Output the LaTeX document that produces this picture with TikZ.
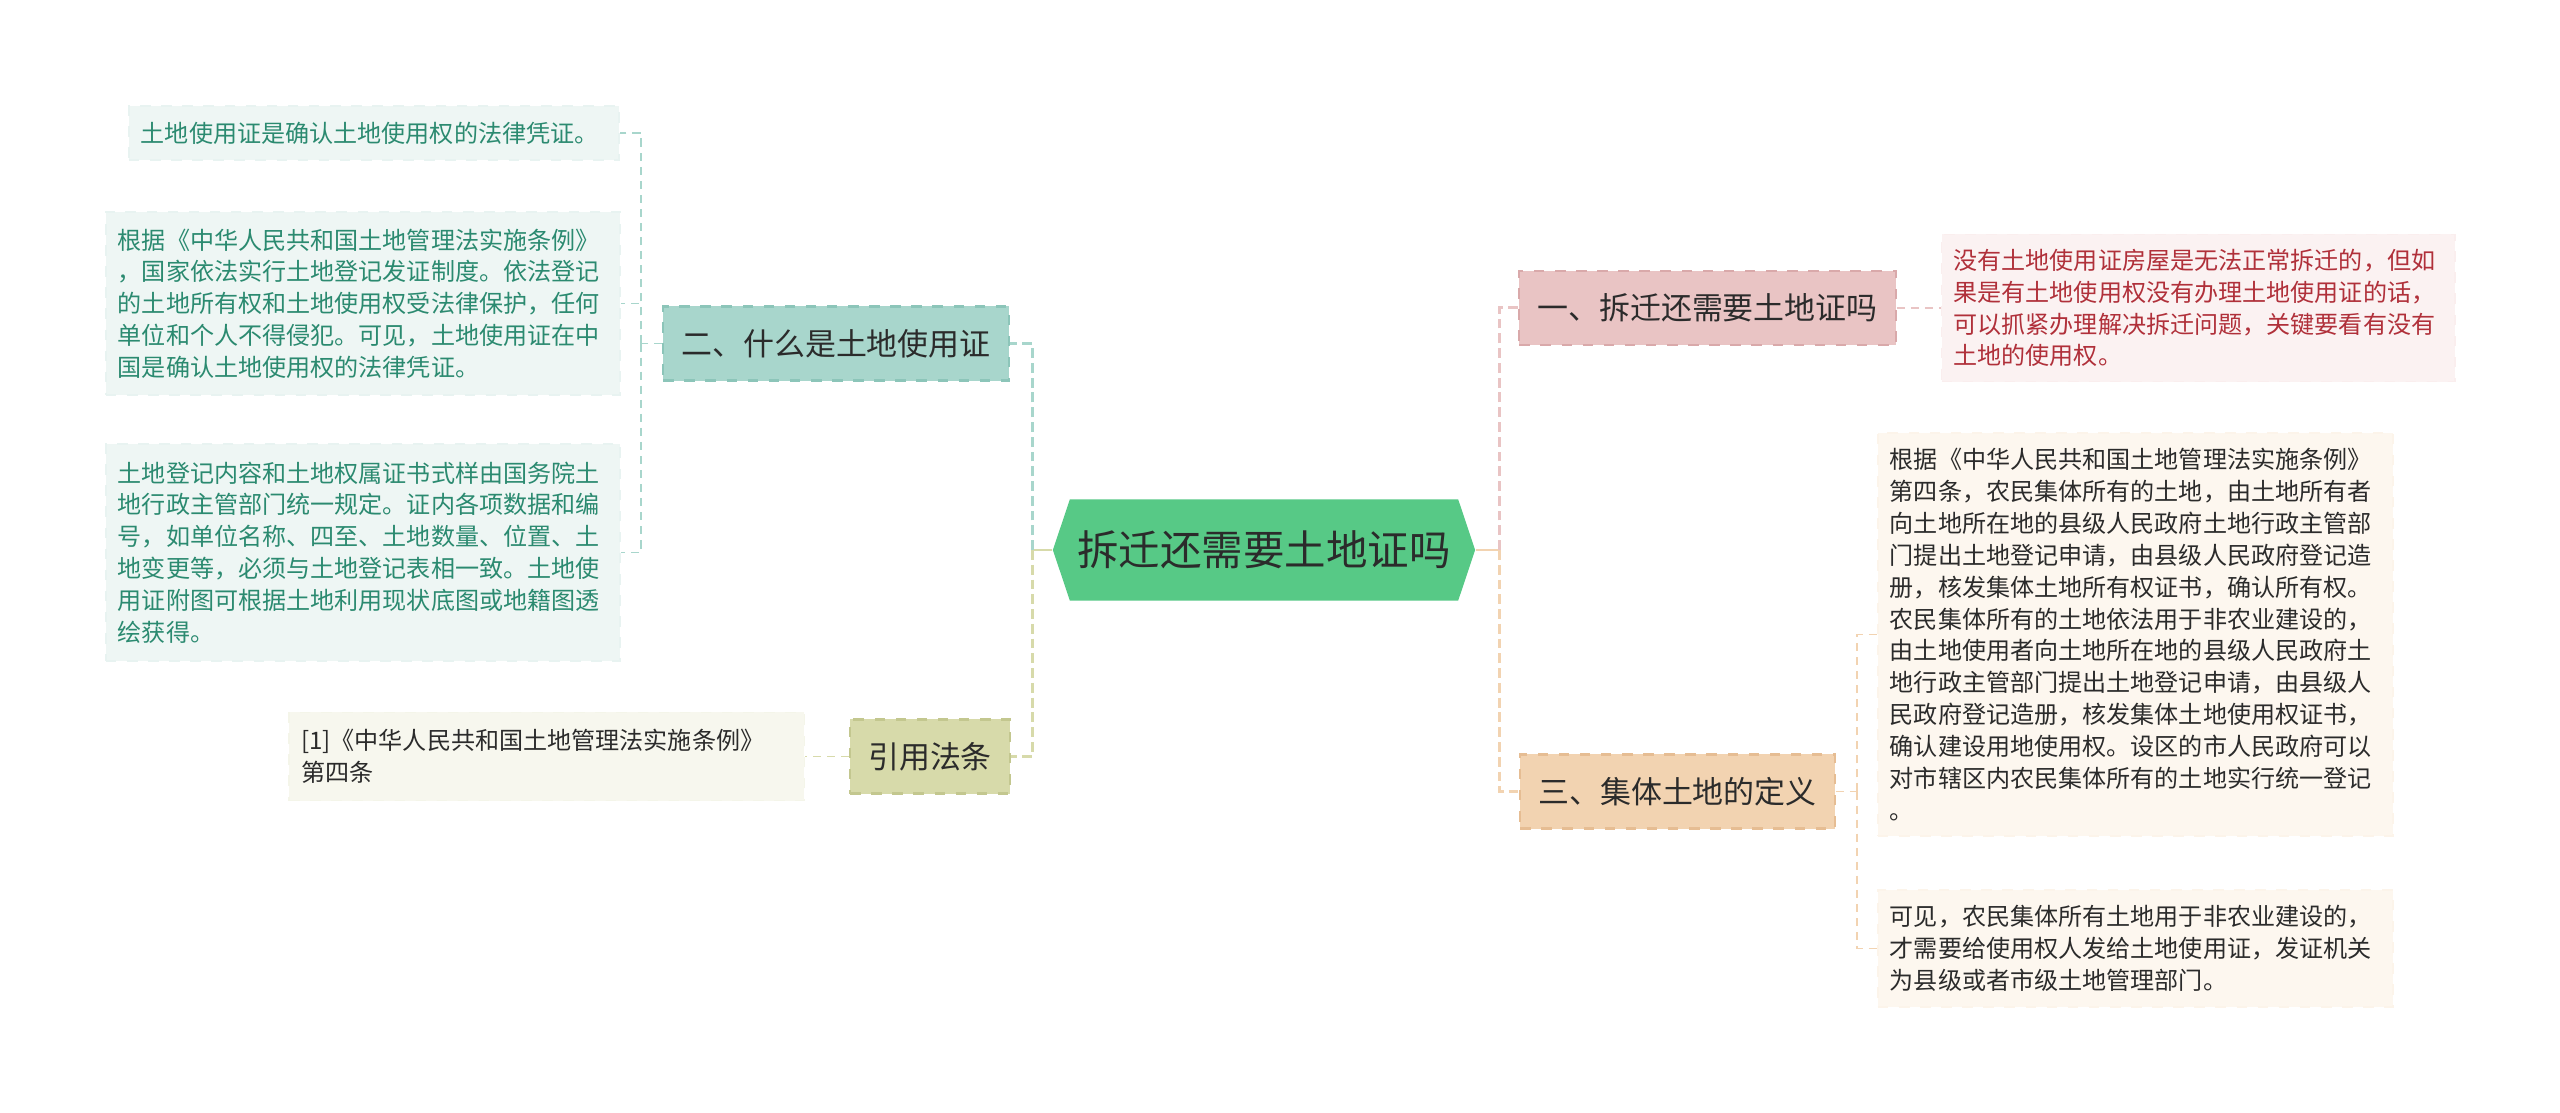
\documentclass[tikz,border=0pt]{standalone}
\usepackage{fontspec}
\newfontfamily\cjk{Noto Sans CJK SC}
\usepackage{xcolor}
\usepackage{tikz}
\usetikzlibrary{shapes.symbols, positioning}
\definecolor{mmgreen}{HTML}{57C986}
\definecolor{mmdark}{HTML}{2B2B2B}
\definecolor{mmteal}{HTML}{A8D6CC}
\definecolor{mmtealdk}{HTML}{8CC5B9}
\definecolor{mmtealbg}{HTML}{EEF6F4}
\definecolor{mmtealtx}{HTML}{2B8A70}
\definecolor{mmolive}{HTML}{D7DAAA}
\definecolor{mmolivedk}{HTML}{C3C78F}
\definecolor{mmolivebg}{HTML}{F7F7EE}
\definecolor{mmpink}{HTML}{E9C4C4}
\definecolor{mmpinkdk}{HTML}{D9A9AA}
\definecolor{mmpinkbg}{HTML}{FBF2F2}
\definecolor{mmred}{HTML}{B0303A}
\definecolor{mmpeach}{HTML}{F2D3B1}
\definecolor{mmpeachdk}{HTML}{E6BD93}
\definecolor{mmpeachbg}{HTML}{FDF7EF}

\begin{document}
\begin{tikzpicture}[x=0.01cm, y=-0.01cm, font=\cjk,
        hub/.style={signal, signal to=west and east, signal pointer angle=143,
          fill=mmgreen, text=mmdark, minimum width=4.22cm, minimum height=1.01cm,
          inner sep=0pt, font=\cjk\fontsize{11.8pt}{14pt}\selectfont},
        topic/.style={draw, dashed, line width=0.6pt, text=mmdark, minimum height=0.74cm,
          inner xsep=0.18cm, inner ysep=0pt, font=\cjk\fontsize{8.8pt}{11pt}\selectfont},
        leaf/.style={draw, dashed, line width=0.4pt, align=left, text=mmdark,
          inner xsep=0.12cm, inner ysep=0pt, font=\cjk\fontsize{6.85pt}{9.05pt}\selectfont},
        link/.style={line width=0.85pt, dash pattern=on 2.8pt off 1.4pt},
        twig/.style={line width=0.45pt, dash pattern=on 2.3pt off 1.7pt}]
        \useasboundingbox (0,0) rectangle (2560,1113);
        \fill[white] (0,0) rectangle (2560,1113);
        % centre
        \node[hub] (hub) at (1264,550) {拆迁还需要土地证吗};
        % left branches
        \node[topic, fill=mmteal, draw=mmtealdk] (what) at (836,343.5) {二、什么是土地使用证};
        \node[topic, fill=mmolive, draw=mmolivedk] (law) at (930,756.5) {引用法条};
        \node[leaf, fill=mmtealbg, draw=mmtealbg!92!mmteal, text=mmtealtx, text width=4.66cm,
          minimum height=0.54cm] (l1) at (374,133) {土地使用证是确认土地使用权的法律凭证。};
        \node[leaf, fill=mmtealbg, draw=mmtealbg!92!mmteal, text=mmtealtx, text width=4.90cm,
          minimum height=1.83cm] (l2) at (363,303.5) {根据《中华人民共和国土地管理法实施条例》\\，国家依法实行土地登记发证制度。依法登记\\的土地所有权和土地使用权受法律保护，任何\\单位和个人不得侵犯。可见，土地使用证在中\\国是确认土地使用权的法律凭证。};
        \node[leaf, fill=mmtealbg, draw=mmtealbg!92!mmteal, text=mmtealtx, text width=4.90cm,
          minimum height=2.17cm] (l3) at (363,552.5) {土地登记内容和土地权属证书式样由国务院土\\地行政主管部门统一规定。证内各项数据和编\\号，如单位名称、四至、土地数量、位置、土\\地变更等，必须与土地登记表相一致。土地使\\用证附图可根据土地利用现状底图或地籍图透\\绘获得。};
        \node[leaf, fill=mmolivebg, draw=mmolivebg!92!mmolive, text width=4.91cm,
          minimum height=0.88cm, left=0.44cm of law] (cite) {[1]《中华人民共和国土地管理法实施条例》\\第四条};
        % right branches
        \node[topic, fill=mmpink, draw=mmpinkdk] (s1) at (1707.5,308) {一、拆迁还需要土地证吗};
        \node[topic, fill=mmpeach, draw=mmpeachdk] (s3) at (1677.5,791.5) {三、集体土地的定义};
        \node[leaf, fill=mmpinkbg, draw=mmpinkbg!92!mmpink, text=mmred, text width=4.89cm,
          minimum height=1.47cm, right=0.44cm of s1] (red) {没有土地使用证房屋是无法正常拆迁的，但如\\果是有土地使用权没有办理土地使用证的话，\\可以抓紧办理解决拆迁问题，关键要看有没有\\土地的使用权。};
        \node[leaf, fill=mmpeachbg, draw=mmpeachbg!92!mmpeach, text width=4.91cm,
          minimum height=4.03cm] (a) at (2135.5,634.5) {根据《中华人民共和国土地管理法实施条例》\\第四条，农民集体所有的土地，由土地所有者\\向土地所在地的县级人民政府土地行政主管部\\门提出土地登记申请，由县级人民政府登记造\\册，核发集体土地所有权证书，确认所有权。\\农民集体所有的土地依法用于非农业建设的，\\由土地使用者向土地所在地的县级人民政府土\\地行政主管部门提出土地登记申请，由县级人\\民政府登记造册，核发集体土地使用权证书，\\确认建设用地使用权。设区的市人民政府可以\\对市辖区内农民集体所有的土地实行统一登记\\。};
        \node[leaf, fill=mmpeachbg, draw=mmpeachbg!92!mmpeach, text width=4.91cm,
          minimum height=1.17cm] (b) at (2135.5,948.5) {可见，农民集体所有土地用于非农业建设的，\\才需要给使用权人发给土地使用证，发证机关\\为县级或者市级土地管理部门。};
        % connectors
        \coordinate (jl) at (1032,550);
        \coordinate (jr) at (1499,550);
        \coordinate (jw) at (641,343.5);
        \coordinate (je) at (1857,791.5);
        \draw[line width=0.85pt, mmolive] (hub.west) -- (jl);
        \draw[link, mmteal] (jl) |- (what.east);
        \draw[link, mmolive] (jl) |- (law.east);
        \draw[line width=0.85pt, mmpeach] (hub.east) -- (jr);
        \draw[link, mmpink] (jr) |- (s1.west);
        \draw[link, mmpeach] (jr) |- (s3.west);
        \draw[twig, mmteal] (what.west) -- (jw);
        \foreach \n in {l1,l2,l3}
          \draw[twig, mmteal] (jw) |- (\n.east);
        \draw[twig, mmolive] (law.west) -- (cite.east);
        \draw[twig, mmpink] (s1.east) -- (red.west);
        \draw[twig, mmpeach] (s3.east) -- (je);
        \foreach \n in {a,b}
          \draw[twig, mmpeach] (je) |- (\n.west);
      \end{tikzpicture}
\end{document}
